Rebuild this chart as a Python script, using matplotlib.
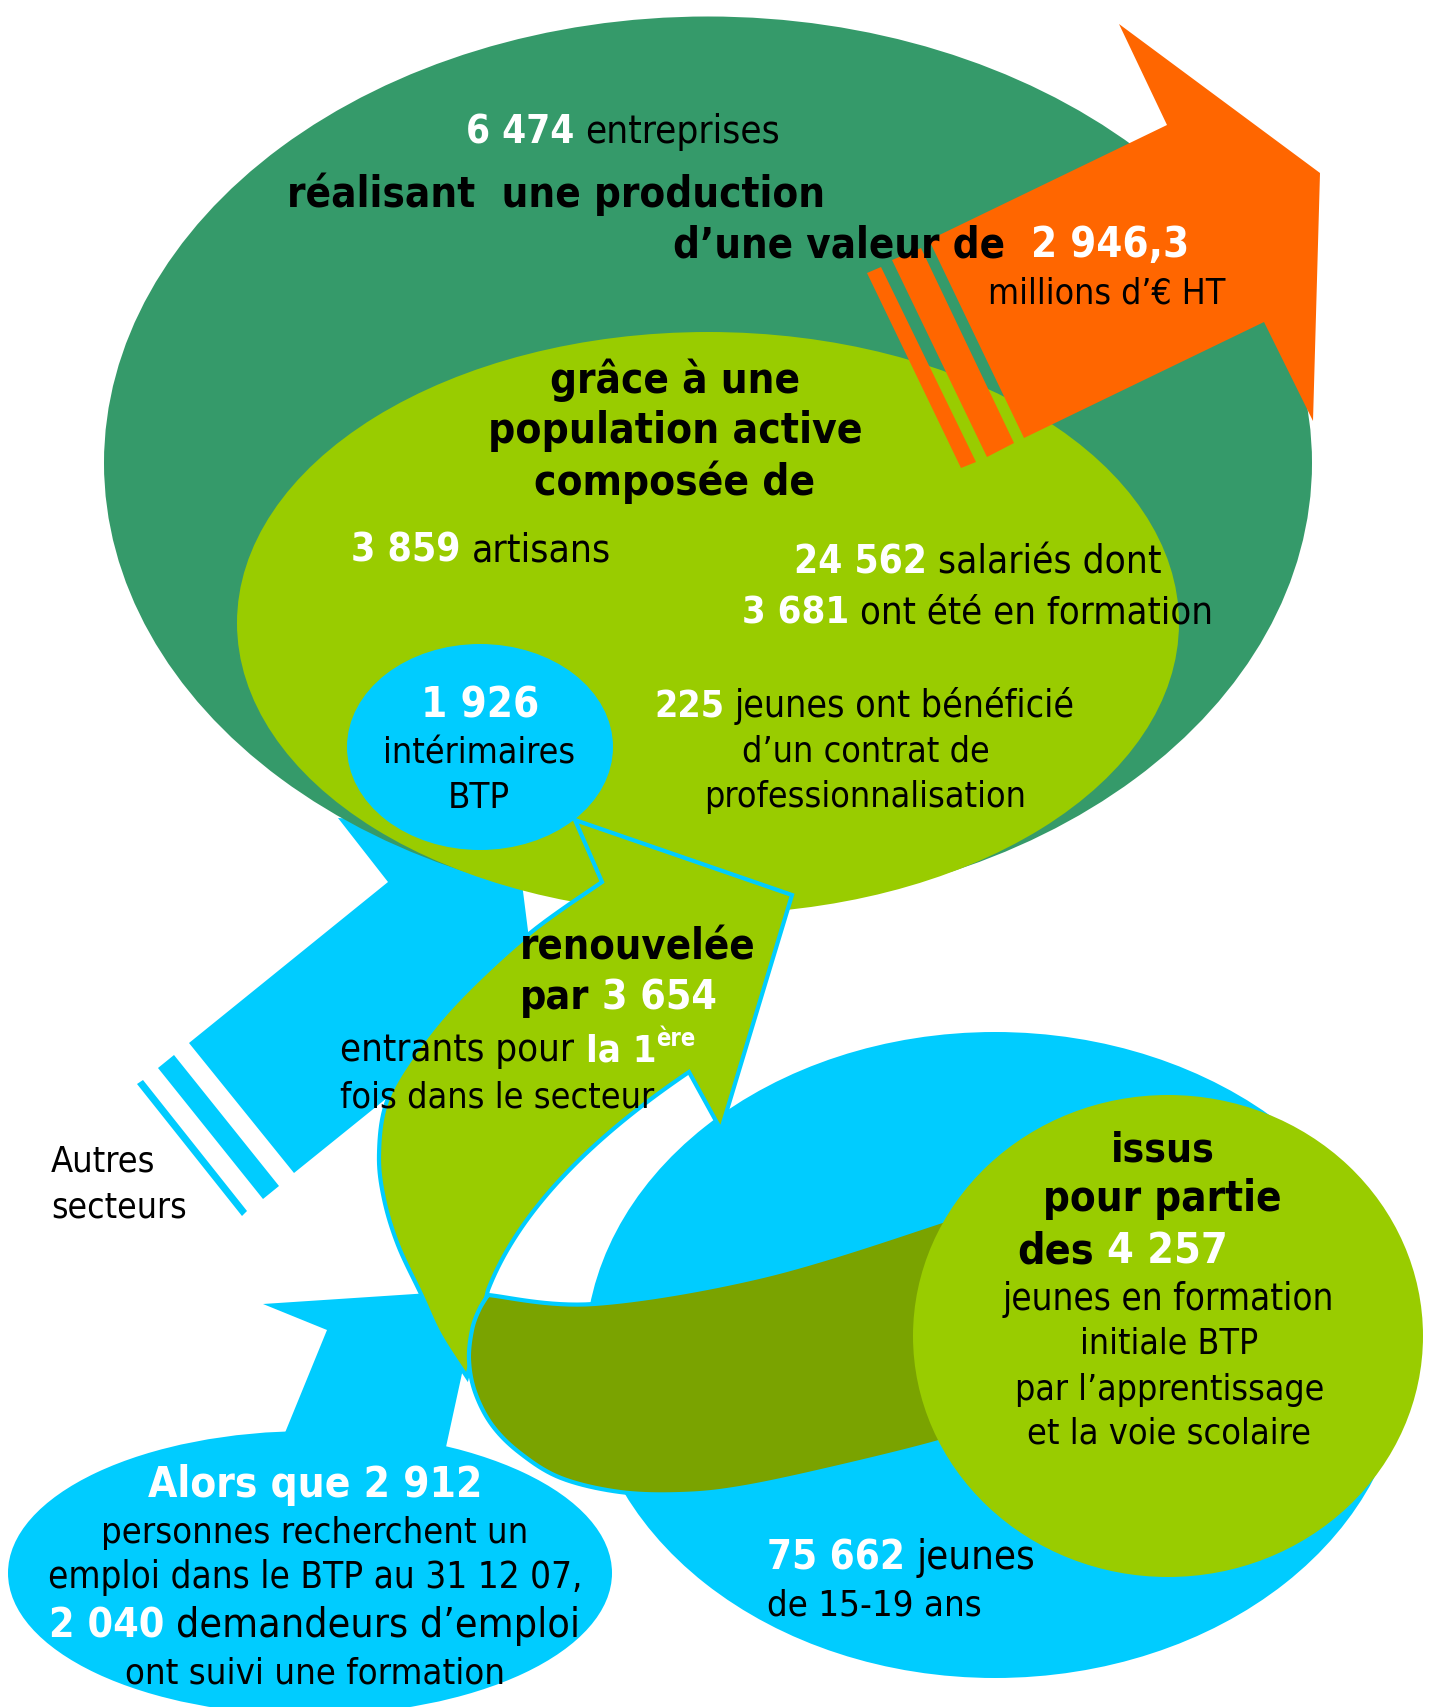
import numpy as np
import matplotlib
matplotlib.use("Agg")
import matplotlib.pyplot as plt
from matplotlib.patches import Ellipse, Polygon
from matplotlib import font_manager as fm

# ---------------- data (values read from the infographic) ----------------
entreprises = 6474
production_meur = 2946.3
artisans = 3859
salaries = 24562
salaries_formes = 3681
interimaires = 1926
contrats_pro = 225
entrants = 3654
jeunes_formation = 4257
jeunes_15_19 = 75662
demandeurs = 2912
demandeurs_formes = 2040
date_label = "31 12 07"


def fr(v):
    if isinstance(v, float):
        return f"{v:,.1f}".replace(",", " ").replace(".", ",")
    return f"{v:,}".replace(",", " ")


# ---------------- colours ----------------
DARK_GREEN = "#359A6A"
LIGHT_GREEN = "#99CC00"
OLIVE = "#7AA300"
BLUE = "#00CCFF"
ORANGE = "#FF6600"


def pick_font():
    entries = fm.fontManager.ttflist
    cands = []
    for e in entries:
        n = e.name.lower()
        cond = ("condensed" in str(e.stretch).lower()
                or any(k in n for k in ("condensed", "narrow", " cond")))
        if cond and "italic" not in str(e.style).lower() \
                and "oblique" not in str(e.style).lower():
            cands.append(e)
    for pref in ("DejaVu Sans", "Noto Sans", "Open Sans", "Roboto",
                 "Liberation Sans", "Lato"):
        group = [e for e in cands if e.name.startswith(pref)]
        weights = {str(e.weight) for e in group}
        has_bold = any(w in ("bold", "700", "600", "semibold", "demibold")
                       for w in weights)
        if group and has_bold:
            return group[0].name, "condensed"
    return "DejaVu Sans", "normal"


FAMILY, STRETCH = pick_font()

W, H = 1433, 1707
fig = plt.figure(figsize=(W / 100, H / 100), dpi=100)
ax = fig.add_axes([0, 0, 1, 1])
ax.set_xlim(0, W)
ax.set_ylim(H, 0)
ax.axis("off")


def smooth(pts, n=10):
    pts = np.asarray(pts, float)
    P = np.vstack([pts[0], pts, pts[-1]])
    out = []
    for i in range(1, len(P) - 2):
        p0, p1, p2, p3 = P[i - 1], P[i], P[i + 1], P[i + 2]
        for t in np.linspace(0, 1, n, endpoint=False):
            t2, t3 = t * t, t * t * t
            out.append(0.5 * ((2 * p1) + (-p0 + p2) * t
                              + (2 * p0 - 5 * p1 + 4 * p2 - p3) * t2
                              + (-p0 + 3 * p1 - 3 * p2 + p3) * t3))
    out.append(pts[-1])
    return np.array(out)


def quad(p0, c, p2, n=40):
    p0, c, p2 = (np.asarray(v, float) for v in (p0, c, p2))
    t = np.linspace(0, 1, n)[:, None]
    return (1 - t) ** 2 * p0 + 2 * t * (1 - t) * c + t ** 2 * p2


def poly(pts, fc, z, ec="none", lw=0):
    ax.add_patch(Polygon(np.asarray(pts), closed=True, facecolor=fc,
                         edgecolor=ec, linewidth=lw, zorder=z,
                         joinstyle="miter"))


# ---------------- shapes ----------------
# blue arrow coming from "Autres secteurs"
poly([(189, 1043), (388, 882), (338, 818), (515, 828), (546, 1073),
      (496, 1010), (294, 1173)], BLUE, 1)
poly([(158, 1068), (174, 1055), (279, 1186), (263, 1199)], BLUE, 1)
poly([(137, 1084), (143, 1080), (247, 1211), (242, 1216)], BLUE, 1)

# enterprises ellipse and active population ellipse
ax.add_patch(Ellipse((708, 463), 1208, 893, facecolor=DARK_GREEN, zorder=2))
ax.add_patch(Ellipse((708, 623), 942, 582, facecolor=LIGHT_GREEN, zorder=3))

# orange production arrow
poly([(929, 240), (1167, 125), (1119, 24), (1320, 173), (1313, 421),
      (1264, 322), (1024, 438)], ORANGE, 4)
poly([(892, 260), (921, 248), (1014, 443), (987, 457)], ORANGE, 4)
poly([(867, 273), (881, 267), (976, 462), (961, 468)], ORANGE, 4)

# young people ellipse
ax.add_patch(Ellipse((995, 1355), 820, 646, facecolor=BLUE, zorder=5))

# job seekers bubble
ax.add_patch(Ellipse((310, 1573), 604, 284, facecolor=BLUE, zorder=5))
poly([(280, 1445), (327, 1330), (263, 1304), (430, 1293), (478, 1300),
      (446, 1447), (440, 1470)], BLUE, 5)

# green renewal arrow (head + curved shaft)
right_edge = np.vstack([quad((689, 1072), (531, 1179), (488, 1290)),
                        [(478, 1332), (467, 1377)]])
left_edge = smooth([(467, 1377), (440, 1335), (421, 1294), (398, 1245),
                    (384, 1199), (379, 1155), (386, 1104), (412, 1057),
                    (457, 1001), (529, 934), (602, 882)])
shaft = np.vstack([[(575, 820), (792, 895), (721, 1130)], right_edge,
                   left_edge])
poly(shaft, LIGHT_GREEN, 6, ec=BLUE, lw=3)

# olive ribbon
top = smooth([(488, 1295), (594, 1304), (763, 1276), (939, 1222),
              (1000, 1198)], n=16)
bottom = smooth([(1000, 1420), (939, 1442), (826, 1470), (740, 1488),
                 (682, 1494), (620, 1492), (561, 1478), (520, 1453),
                 (492, 1425), (475, 1392), (469, 1360), (472, 1330),
                 (479, 1310), (488, 1295)])
poly(np.vstack([top, bottom]), OLIVE, 7, ec=BLUE, lw=3)

# initial-training ellipse
ax.add_patch(Ellipse((1168, 1336), 510, 482, facecolor=LIGHT_GREEN, zorder=8))

# temporary workers ellipse
ax.add_patch(Ellipse((480, 747), 266, 206, facecolor=BLUE, zorder=8))

# ---------------- text ----------------
renderer = fig.canvas.get_renderer()
COL = {"k": "black", "kb": "black", "wb": "white", "sup": "white"}


def fprop(kind, size):
    weight = "normal" if kind == "k" else "bold"
    return fm.FontProperties(family=FAMILY, stretch=STRETCH, weight=weight,
                             size=size)


def measure(s, prop):
    t = ax.text(0, 0, s, fontproperties=prop)
    w = t.get_window_extent(renderer).width
    t.remove()
    return w


def layout(runs, size):
    items = []
    total = 0.0
    for text, kind in runs:
        nsp = len(text) - len(text.lstrip(" "))
        body = text.strip(" ")
        s = size * (0.62 if kind == "sup" else 1.0)
        prop = fprop(kind, s)
        gap = 0.0
        if nsp:
            gap = (measure("a a", prop) - measure("aa", prop)) * nsp
        w = measure(body, prop)
        items.append((body, kind, prop, gap, w, s))
        total += gap + w
    return items, total


def draw_line(runs, x0, x1, y, align, cap):
    _, w10 = layout(runs, 10)
    size = min(cap, 10 * (x1 - x0) / w10)
    items, total = layout(runs, size)
    x = x0 if align == "left" else (x0 + x1) / 2 - total / 2
    for body, kind, prop, gap, w, s in items:
        x += gap
        yy = y - (0.55 * size if kind == "sup" else 0)
        ax.text(x, yy, body, fontproperties=prop, color=COL[kind],
                ha="left", va="baseline", zorder=20)
        x += w


LINES = [
    ([(fr(entreprises), "wb"), (" entreprises", "k")], 466, 781, 143, "left", 31),
    ([("réalisant  une production", "kb")], 287, 821, 207, "left", 31),
    ([("d’une valeur de", "kb"), ("  " + fr(production_meur), "wb")], 673, 1188, 257, "left", 31),
    ([("millions d’€ HT", "k")], 988, 1226, 303, "left", 26),
    ([("grâce à une", "kb")], 551, 800, 393, "center", 31),
    ([("population active", "kb")], 490, 860, 443, "center", 31),
    ([("composée de", "kb")], 535, 815, 495, "center", 31),
    ([(fr(artisans), "wb"), (" artisans", "k")], 351, 611, 561, "left", 30),
    ([(fr(salaries), "wb"), (" salariés dont", "k")], 794, 1163, 573, "left", 30),
    ([(fr(salaries_formes), "wb"), (" ont été en formation", "k")], 742, 1213, 623, "left", 30),
    ([(fr(interimaires), "wb")], 421, 539, 718, "center", 31),
    ([("intérimaires", "k")], 383, 576, 764, "center", 28),
    ([("BTP", "k")], 448, 510, 808, "center", 28),
    ([(fr(contrats_pro), "wb"), (" jeunes ont bénéficié", "k")], 654, 1077, 717, "left", 30),
    ([("d’un contrat de", "k")], 741, 990, 762, "center", 28),
    ([("professionnalisation", "k")], 704, 1026, 807, "center", 28),
    ([("renouvelée", "kb")], 520, 755, 960, "left", 31),
    ([("par", "kb"), (" " + fr(entrants), "wb")], 520, 717, 1009, "left", 31),
    ([("entrants pour", "k"), (" la 1", "wb"), ("ère", "sup")], 340, 696, 1061, "left", 28),
    ([("fois dans le secteur", "k")], 340, 656, 1108, "left", 28),
    ([("Autres", "k")], 51, 156, 1171, "left", 28),
    ([("secteurs", "k")], 51, 187, 1217, "left", 28),
    ([("issus", "kb")], 1111, 1215, 1161, "center", 31),
    ([("pour partie", "kb")], 1044, 1281, 1211, "center", 31),
    ([("des", "kb"), (" " + fr(jeunes_formation), "wb")], 1017, 1229, 1264, "left", 31),
    ([("jeunes en formation", "k")], 1003, 1334, 1310, "center", 28),
    ([("initiale BTP", "k")], 1080, 1259, 1354, "center", 28),
    ([("par l’apprentissage", "k")], 1014, 1325, 1400, "center", 28),
    ([("et la voie scolaire", "k")], 1026, 1312, 1444, "center", 28),
    ([(fr(jeunes_15_19), "wb"), (" jeunes", "k")], 767, 1036, 1569, "left", 30),
    ([("de 15-19 ans", "k")], 767, 982, 1616, "left", 28),
    ([("Alors que " + fr(demandeurs), "wb")], 148, 482, 1497, "center", 31),
    ([("personnes recherchent un", "k")], 102, 528, 1543, "center", 29),
    ([("emploi dans le BTP au " + date_label + ",", "k")], 48, 582, 1588, "center", 29),
    ([(fr(demandeurs_formes), "wb"), (" demandeurs d’emploi", "k")], 48, 582, 1637, "center", 31),
    ([("ont suivi une formation", "k")], 125, 505, 1683, "center", 29),
]

for runs, x0, x1, y, align, cap in LINES:
    draw_line(runs, x0, x1, y, align, cap)

fig.savefig("out.png", dpi=100)
